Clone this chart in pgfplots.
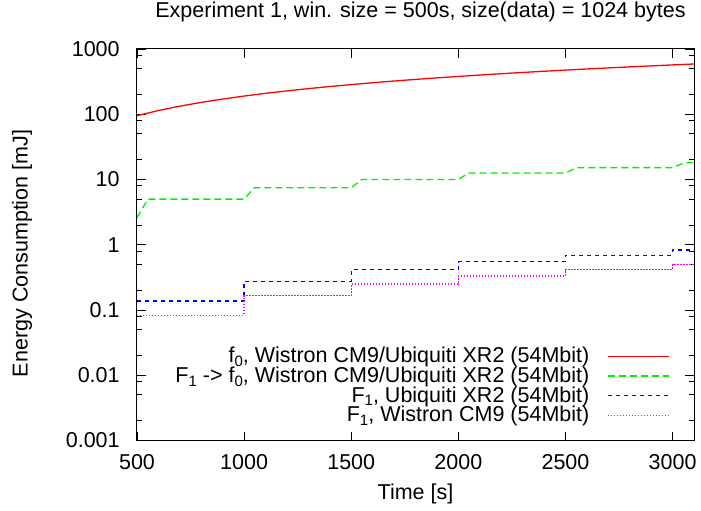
\documentclass[border=0pt]{standalone}
\usepackage{fontspec}
\setmainfont{Liberation Sans}
\usepackage{pgfplots}
\pgfplotsset{compat=1.18}
\definecolor{gpred}{RGB}{255,0,0}
\definecolor{gpgreen}{RGB}{0,240,0}
\definecolor{gpblue}{RGB}{0,0,255}
\definecolor{gpmagenta}{RGB}{255,0,255}
\newcommand{\sub}[1]{\raisebox{-0.35ex}{\fontsize{15}{17}\selectfont #1}}
\begin{document}
\fontsize{21.5}{25}\selectfont
\begin{tikzpicture}
\begin{axis}[
    scale only axis,
    width=557pt, height=391.5pt,
    ymode=log,
    xmin=500, xmax=3100, ymin=0.001, ymax=1000,
    xtick={500,1000,1500,2000,2500,3000},
    ytick={0.001,0.01,0.1,1,10,100,1000},
    yticklabels={0.001,0.01,0.1,1,10,100,1000},
    minor ytick={0.002,0.005,0.008,0.02,0.05,0.08,0.2,0.5,0.8,2,5,8,20,50,80,200,500,800},
    tick align=inside,
    major tick length=9pt, minor tick length=5pt,
    tick style={black, line width=0.8pt},
    axis line style={black, line width=1pt},
    /pgf/number format/1000 sep={},
    /pgf/number format/assume math mode=true,
    yticklabel style={xshift=-10pt},
    xticklabel style={yshift=-7pt},
    title={Experiment 1, win. size = 500s, size(data) = 1024 bytes},
    title style={at={(axis description cs:0.509,1.079)}, anchor=center},
    xlabel={Time [s]},
    xlabel style={at={(axis description cs:0.5,-0.1367)}, anchor=center},
    ylabel={Energy Consumption [mJ]},
    ylabel style={at={(axis description cs:-0.2065,0.478)}, anchor=center},
    legend plot pos=right,
    legend cell align=right,
    legend style={draw=none, fill=none, at={(axis description cs:0.962,0.25)},
        anchor=north east, row sep=-3pt,
        /tikz/every odd column/.append style={column sep=16pt}},
    legend image code/.code={\draw[#1] (0pt,0pt) -- (61pt,0pt);},
]
\addplot[gpred, line width=1.3pt] coordinates {
    (500,95) (600,114) (700,133) (800,152) (900,171) (1000,190)
    (1100,209) (1200,228) (1300,247) (1400,266) (1500,285) (1600,304)
    (1700,323) (1800,342) (1900,361) (2000,380) (2100,399) (2200,418)
    (2300,437) (2400,456) (2500,475) (2600,494) (2700,513) (2800,532)
    (2900,551) (3000,570) (3100,589)
};
\addlegendentry{f\sub{0}, Wistron CM9/Ubiquiti XR2 (54Mbit)}
\addplot[gpgreen, line width=1.3pt, dash pattern=on 7pt off 4pt] coordinates {
    (500,2.6) (525,3.6) (551,5)
    (1000,5) (1048,7.5) (1500,7.5) (1549,10)
    (2000,10) (2048,12.6) (2500,12.6) (2552,15.2)
    (3000,15.2) (3055,18) (3100,18)
};
\addlegendentry{F\sub{1} -> f\sub{0}, Wistron CM9/Ubiquiti XR2 (54Mbit)}
\addplot[gpblue, line width=1.3pt, dash pattern=on 4pt off 4pt, const plot] coordinates {
    (500,0.138) (1000,0.276) (1500,0.414) (2000,0.552)
    (2500,0.69) (3000,0.828) (3100,0.828)
};
\addlegendentry{F\sub{1}, Ubiquiti XR2 (54Mbit)}
\addplot[gpmagenta, line width=1.3pt, dash pattern=on 1.5pt off 1.5pt, const plot] coordinates {
    (500,0.083) (1000,0.166) (1500,0.249) (2000,0.332)
    (2500,0.415) (3000,0.498) (3100,0.498)
};
\addlegendentry{F\sub{1}, Wistron CM9 (54Mbit)}
\end{axis}
\pgfresetboundingbox
\path[use as bounding box] (-137pt,-70.5pt) rectangle (564pt,440.5pt);
\end{tikzpicture}
\end{document}
